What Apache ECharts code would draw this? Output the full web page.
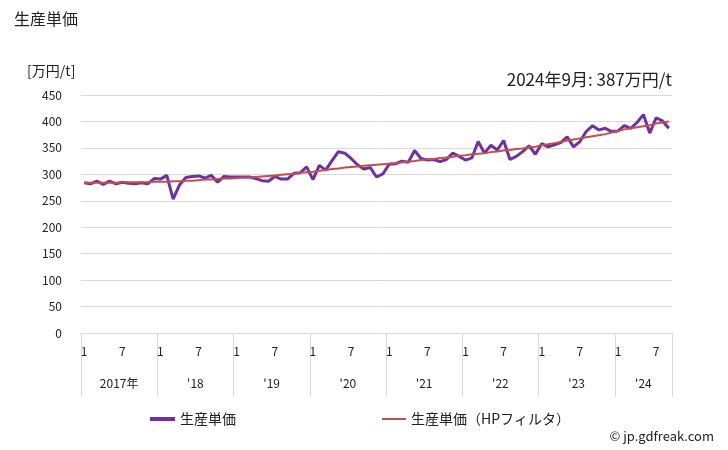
<!DOCTYPE html>
<html><head><meta charset="utf-8">
<script src="https://cdn.jsdelivr.net/npm/echarts@6/dist/echarts.min.js"></script>
<style>html,body{margin:0;padding:0;background:#fff}#c{width:728px;height:450px}</style>
</head><body><div id="c"></div>
<script>
const yearLabels = ['2017年', "'18", "'19", "'20", "'21", "'22", "'23", "'24"];
const monthsPerYear = [12, 12, 12, 12, 12, 12, 12, 9];
const monthTickLabels = ['1', '7'];
const unitPrice = [
  284, 282, 287, 281, 287, 282, 285, 283, 282, 284, 282, 292,
  291, 298, 253, 280, 294, 296, 297, 293, 298, 285, 296, 295,
  295, 295, 295, 292, 288, 287, 296, 291, 291, 302, 303, 314,
  290, 317, 308, 326, 343, 340, 330, 318, 310, 313, 295, 301,
  319, 320, 325, 323, 345, 330, 327, 328, 324, 328, 340, 334,
  327, 331, 362, 340, 355, 346, 364, 328, 334, 343, 354, 338,
  358, 352, 356, 360, 371, 352, 362, 381, 392, 384, 387, 381,
  382, 392, 387, 398, 413, 378, 407, 401, 387
];
const unitPriceHP = [
  284, 284, 284, 284, 284, 284, 285, 285, 285, 285, 285, 286,
  286, 286, 287, 287, 288, 288, 289, 290, 290, 291, 292, 292,
  293, 294, 294, 295, 296, 297, 298, 299, 300, 301, 303, 304,
  305, 307, 308, 310, 311, 313, 314, 315, 316, 317, 318, 319,
  320, 321, 323, 324, 325, 327, 328, 329, 331, 332, 333, 335,
  336, 338, 339, 340, 342, 343, 345, 346, 348, 349, 351, 352,
  355, 357, 359, 361, 364, 366, 368, 370, 372, 374, 376, 379,
  382, 385, 387, 389, 391, 393, 396, 398, 400
];
const yMin = 0, yMax = 450, yInterval = 50;
const titleText = '生産単価';
const unitText = '[万円/t]';
const latestNote = '2024年9月: 387万円/t';
const seriesNames = ['生産単価', '生産単価（HPフィルタ）'];

// build month categories
const categories = [];
yearLabels.forEach((y, yi) => {
  for (let m = 1; m <= monthsPerYear[yi]; m++) categories.push(yi + '-' + m);
});
// half-month positions for year labels / separators
const total = categories.length;
const halfCats = new Array(2 * total + 1).fill('');
const boundaries = [];
let s = 0;
yearLabels.forEach((y, yi) => {
  boundaries.push(2 * s);
  halfCats[2 * s + monthsPerYear[yi]] = y;
  s += monthsPerYear[yi];
});
boundaries.push(2 * s);
for (let k = 0; k < halfCats.length; k++) if (!halfCats[k]) halfCats[k] = '\u200b' + k;

const FONT = '"Noto Sans CJK JP", "Noto Sans", sans-serif';
const chart = echarts.init(document.getElementById('c'), null, {renderer: 'canvas'});
chart.setOption({
  animation: false,
  backgroundColor: '#fff',
  textStyle: {fontFamily: FONT, color: '#222'},
  title: [
    {text: titleText, left: 9, top: 6, textStyle: {fontSize: 16, fontWeight: 'normal', color: '#222', fontFamily: FONT}},
    {text: unitText, left: 22, top: 59, textStyle: {fontSize: 14, fontWeight: 'normal', color: '#222', fontFamily: FONT}},
    {text: latestNote, right: 51, top: 66, textStyle: {fontSize: 17, fontWeight: 'normal', color: '#222', fontFamily: FONT}},
    {text: '© jp.gdfreak.com', right: 9, top: 425, textStyle: {fontSize: 13, fontWeight: 'normal', color: '#222', fontFamily: FONT}}
  ],
  legend: [
    {data: [seriesNames[0]], left: 145, top: 407, icon: 'rect', itemWidth: 25, itemHeight: 4, itemGap: 4,
     textStyle: {fontSize: 14, color: '#222', fontFamily: FONT}},
    {data: [seriesNames[1]], left: 377, top: 407, icon: 'rect', itemWidth: 24, itemHeight: 2, itemGap: 4,
     textStyle: {fontSize: 14, color: '#222', fontFamily: FONT}}
  ],
  grid: {left: 81, right: 56, top: 95, bottom: 117, containLabel: false},
  xAxis: [
    {
      type: 'category', data: categories, boundaryGap: true,
      axisLine: {show: true, lineStyle: {color: '#d9d9d9', width: 1}},
      axisTick: {show: false},
      axisLabel: {
        interval: (i) => { const m = categories[i].split('-')[1]; return monthTickLabels.includes(m); },
        formatter: (v) => v.split('-')[1],
        margin: 12, fontSize: 12, color: '#222', fontFamily: FONT
      },
      splitLine: {show: false}
    },
    {
      type: 'category', data: halfCats, boundaryGap: false, position: 'bottom',
      axisLine: {show: false},
      axisTick: {show: true, length: 64, interval: (i) => boundaries.includes(i), lineStyle: {color: '#d9d9d9', width: 1}},
      axisLabel: {
        interval: (i) => yearLabels.includes(halfCats[i]),
        margin: 44, fontSize: 12, color: '#222', fontFamily: FONT
      },
      splitLine: {show: false}
    }
  ],
  yAxis: {
    type: 'value', min: yMin, max: yMax, interval: yInterval,
    axisLine: {show: false}, axisTick: {show: false},
    axisLabel: {margin: 19, fontSize: 12, color: '#222', fontFamily: FONT},
    splitLine: {lineStyle: {color: '#d9d9d9', width: 1}}
  },
  series: [
    {name: seriesNames[0], type: 'line', data: unitPrice, xAxisIndex: 0, symbol: 'none',
     lineStyle: {color: '#7030a0', width: 3}, itemStyle: {color: '#7030a0'}},
    {name: seriesNames[1], type: 'line', data: unitPriceHP, xAxisIndex: 0, symbol: 'none',
     lineStyle: {color: '#c0504d', width: 2}, itemStyle: {color: '#c0504d'}}
  ]
});
</script></body></html>
